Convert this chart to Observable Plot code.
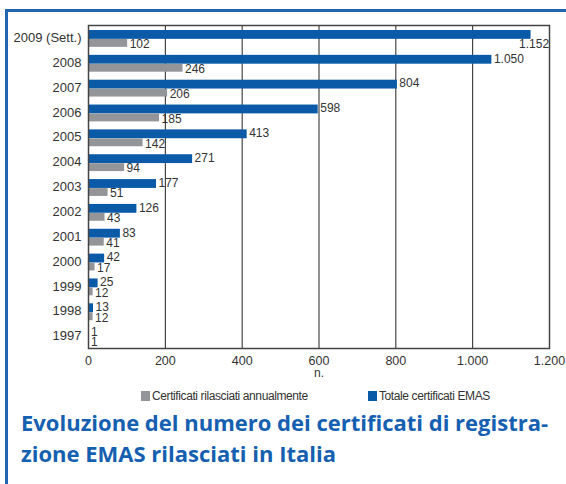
<!DOCTYPE html>
<html><head><meta charset="utf-8">
<script src="https://cdn.jsdelivr.net/npm/d3@7"></script>
<script src="https://cdn.jsdelivr.net/npm/@observablehq/plot@0.6"></script>
<style>
body{margin:0;background:#fff;}
#wrap{position:relative;width:566px;height:484px;overflow:hidden;background:#fff;
  font-family:"Liberation Sans",Arial,sans-serif;}
#wrap svg{position:absolute;left:0;top:0;}
.bt{position:absolute;left:5px;top:9px;width:561px;height:3px;background:#2266b3;}
.bl{position:absolute;left:5px;top:9px;width:3px;height:475px;background:#2266b3;}
#legend{position:absolute;top:389px;left:141px;font-size:12px;color:#333;white-space:nowrap;letter-spacing:-0.4px;}
#legend .it{position:absolute;top:0;display:flex;align-items:center;}
#legend .sw{display:inline-block;width:9px;height:10px;margin-right:2px;}
#title{position:absolute;left:21px;top:407px;font-family:"Open Sans",sans-serif;font-weight:700;
  font-size:22px;line-height:31px;color:#1560b0;white-space:nowrap;}
</style></head><body><div id="wrap"><div class="bt"></div><div class="bl"></div></div>
<script>
const years = ["2009 (Sett.)","2008","2007","2006","2005","2004","2003","2002","2001","2000","1999","1998","1997"];
const totale = [1152,1050,804,598,413,271,177,126,83,42,25,13,1];
const annuali = [102,246,206,185,142,94,51,43,41,17,12,12,1];
const seriesNames = ["Certificati rilasciati annualmente","Totale certificati EMAS"];
const seriesColors = ["#939598","#0a5aa8"];
const xTicks = [0,200,400,600,800,1000,1200];
const axisUnit = "n.";
const titleLines = ["Evoluzione del numero dei certificati di registra-","zione EMAS rilasciati in Italia"];

const rows = years.map((y,i)=>({year:y, totale:totale[i], annuali:annuali[i]}));
const itFmt = d3.formatLocale({decimal:",",thousands:".",grouping:[3],currency:["","€"]}).format(",d");
const font = '"Liberation Sans",Arial,sans-serif';

const plot = Plot.plot({
  width:566, height:385,
  marginLeft:88, marginRight:17, marginTop:25, marginBottom:37,
  style:{fontFamily:font, fontSize:"12px", color:"#333", background:"transparent"},
  x:{domain:[0,1200], label:null},
  y:{domain:years, padding:0, round:false, label:null},
  marks:[
    Plot.gridX(xTicks.slice(1,-1), {stroke:"#222", strokeOpacity:1, strokeWidth:1}),
    Plot.barX(rows, {x:"totale", y:"year", fill:seriesColors[1], insetTop:5, insetBottom:11}),
    Plot.barX(rows, {x:"annuali", y:"year", fill:seriesColors[0], insetTop:14, insetBottom:3}),
    Plot.frame({stroke:"#444", strokeWidth:1.5}),
    Plot.axisX({ticks:xTicks, tickFormat:itFmt, tickSize:0, tickPadding:8, fontSize:12.5, label:null}),
    Plot.axisY({tickSize:0, tickPadding:7, fontSize:13, letterSpacing:-0.5, label:null}),
    Plot.text(rows.filter(d=>d.totale<1100), {x:"totale", y:"year", text:d=>itFmt(d.totale), textAnchor:"start", dx:2, dy:-4, fontSize:12, fill:"#333"}),
    Plot.text(rows.filter(d=>d.totale>=1100), {x:"totale", y:"year", text:d=>itFmt(d.totale), textAnchor:"end", dx:18, dy:6.5, fontSize:12, fill:"#333"}),
    Plot.text(rows, {x:"annuali", y:"year", text:d=>itFmt(d.annuali), textAnchor:"start", dx:2, dy:6.5, fontSize:12, fill:"#333"}),
    Plot.text([axisUnit], {frameAnchor:"bottom", dy:28, fontSize:12, fill:"#333"})
  ]
});
const wrap = document.getElementById("wrap");
wrap.appendChild(plot);

const legend = document.createElement("div");
legend.id = "legend";
const offsets = [0, 227];
seriesNames.forEach((n,i)=>{
  const it = document.createElement("div");
  it.className = "it"; it.style.left = offsets[i]+"px";
  const sw = document.createElement("span"); sw.className="sw"; sw.style.background = seriesColors[i];
  const t = document.createElement("span"); t.textContent = n;
  it.appendChild(sw); it.appendChild(t); legend.appendChild(it);
});
wrap.appendChild(legend);

const title = document.createElement("div");
title.id = "title";
title.innerHTML = titleLines.join("<br>");
wrap.appendChild(title);
</script></body></html>
